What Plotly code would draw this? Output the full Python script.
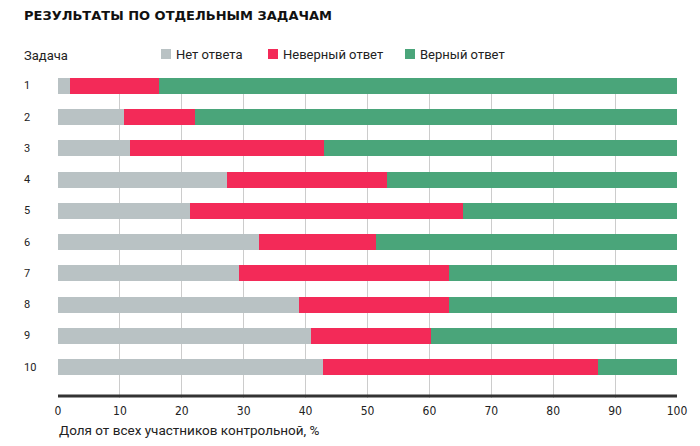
import plotly.graph_objects as go

tasks = ["1", "2", "3", "4", "5", "6", "7", "8", "9", "10"]
no_answer = [2.0, 10.7, 11.7, 27.3, 21.4, 32.4, 29.2, 38.9, 40.9, 42.8]
wrong_cum = [16.3, 22.2, 42.9, 53.1, 65.5, 51.4, 63.2, 63.1, 60.3, 87.3]
wrong = [round(w - n, 1) for w, n in zip(wrong_cum, no_answer)]
right = [round(100 - w, 1) for w in wrong_cum]

series_names = ["Нет ответа", "Неверный ответ", "Верный ответ"]
series_values = [no_answer, wrong, right]
colors = ["#b9c2c4", "#f32a58", "#4aa57a"]
x_ticks = list(range(0, 101, 10))

title_text = "РЕЗУЛЬТАТЫ ПО ОТДЕЛЬНЫМ ЗАДАЧАМ"
y_title = "Задача"
x_title = "Доля от всех участников контрольной, %"

W, H = 700, 446
L, R, T, B = 58, 23, 78, 48
pw, ph = W - L - R, H - T - B


def px(x):
    return (x - L) / pw


def py(y):
    return (H - B - y) / ph


fig = go.Figure()
for name, vals, col in zip(series_names, series_values, colors):
    fig.add_trace(go.Bar(
        y=list(range(len(tasks))), x=vals, name=name, orientation="h",
        marker=dict(color=col, line=dict(width=0)), width=0.51,
        showlegend=False, hoverinfo="x+name",
    ))

annotations = []
shapes = []
# bottom axis line
shapes.append(dict(type="line", xref="x", yref="paper", x0=0, x1=100,
                   y0=py(396), y1=py(396), line=dict(color="#333333", width=3),
                   layer="above"))

annotations.append(dict(x=px(22), y=py(16), xref="paper", yref="paper", text="<b>" + title_text + "</b>",
                        showarrow=False, xanchor="left", yanchor="middle",
                        font=dict(family="DejaVu Sans", size=13, color="#111")))
annotations.append(dict(x=px(22), y=py(55), xref="paper", yref="paper", text=y_title,
                        showarrow=False, xanchor="left", yanchor="middle",
                        font=dict(family="Roboto", size=13, color="#222")))
annotations.append(dict(x=px(57), y=py(430), xref="paper", yref="paper", text=x_title,
                        showarrow=False, xanchor="left", yanchor="middle",
                        font=dict(family="Roboto", size=13.5, color="#222")))
leg_x = [161, 268, 405]
for lx, name, col in zip(leg_x, series_names, colors):
    shapes.append(dict(type="rect", xref="paper", yref="paper",
                       x0=px(lx), x1=px(lx + 10), y0=py(49), y1=py(59),
                       fillcolor=col, line=dict(width=0)))
    annotations.append(dict(x=px(lx + 13), y=py(54), xref="paper", yref="paper", text=name,
                            showarrow=False, xanchor="left", yanchor="middle",
                            font=dict(family="Roboto", size=13, color="#222")))
for i, t in enumerate(tasks):
    annotations.append(dict(x=px(22), xref="paper", y=i, yref="y", text=t, showarrow=False,
                            xanchor="left", yanchor="middle",
                            font=dict(family="Roboto", size=11, color="#222")))

fig.update_layout(
    width=W, height=H, margin=dict(l=L, r=R, t=T, b=B),
    barmode="stack", bargap=0.49,
    plot_bgcolor="white", paper_bgcolor="white",
    annotations=annotations, shapes=shapes,
    xaxis=dict(range=[0, 100], tickmode="array", tickvals=x_ticks,
               showgrid=True, gridcolor="#cccccc", gridwidth=1,
               showline=False, zeroline=False,
               ticks="outside", ticklen=2, tickcolor="rgba(0,0,0,0)",
               tickfont=dict(family="Liberation Sans Narrow, DejaVu Sans Condensed, sans-serif", size=12, color="#222")),
    yaxis=dict(range=[9.993, -0.256], showticklabels=False, showgrid=False,
               zeroline=False, showline=False),
)
fig.write_html("out.html", config={"displayModeBar": False, "staticPlot": True},
               post_script="document.body.style.margin='0';")
